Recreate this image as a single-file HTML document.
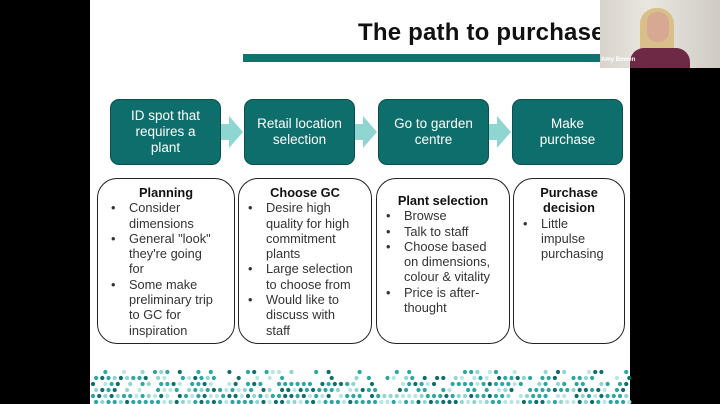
<!DOCTYPE html>
<html><head><meta charset="utf-8"><style>
*{margin:0;padding:0;box-sizing:border-box}
body{width:720px;height:404px;background:#000;position:relative;overflow:hidden;font-family:"Liberation Sans",sans-serif}
#slide{position:absolute;left:90px;top:0;width:540px;height:404px;background:#fff}
.a{position:absolute}
.tb{position:absolute;top:99px;width:111px;height:66px;background:#0e6e6b;border-radius:9px;border:1px solid #0a4f4d;color:#fff;font-size:13.5px;line-height:16px;display:flex;align-items:center;justify-content:center;text-align:center}
.bx{position:absolute;top:178px;height:166px;border:1.3px solid #222;border-radius:20px;font-size:12.8px;line-height:15.3px;color:#333;padding:6px 0 0 12px;white-space:nowrap}
.bx h4{font-size:12.8px;text-align:center;color:#111;font-weight:bold;margin-left:-12px}
.bx ul{list-style:none}
.bx li{position:relative;padding-left:19px}
.bx li:before{content:"•";position:absolute;left:1px}
</style></head><body>
<div id="slide"></div>
<div class="a" style="left:358px;top:19px;font-size:24px;font-weight:bold;color:#111;letter-spacing:0.2px">The path to purchase</div>
<div class="a" style="left:243px;top:54px;width:387px;height:8px;background:#137270"></div>
<svg class="a" style="left:0;top:0" width="720" height="404">
<g fill="#8fd6d2">
<path d="M221 124h8v-8l14 16-14 16v-8h-8z"/>
<path d="M355 124h8v-8l14 16-14 16v-8h-8z"/>
<path d="M489 124h8v-8l14 16-14 16v-8h-8z"/>
</g>
<g id="dots"></g>
</svg>
<div class="tb" style="left:110px">ID spot that<br>requires a<br>plant</div>
<div class="tb" style="left:244px">Retail location<br>selection</div>
<div class="tb" style="left:378px">Go to garden<br>centre</div>
<div class="tb" style="left:512px">Make<br>purchase</div>
<div class="bx" style="left:97px;width:138px"><h4>Planning</h4><ul><li>Consider<br>dimensions</li><li>General "look"<br>they're going<br>for</li><li>Some make<br>preliminary trip<br>to GC for<br>inspiration</li></ul></div>
<div class="bx" style="left:238px;width:134px;padding-left:8px"><h4 style="margin-left:-8px">Choose GC</h4><ul><li>Desire high<br>quality for high<br>commitment<br>plants</li><li>Large selection<br>to choose from</li><li>Would like to<br>discuss with<br>staff</li></ul></div>
<div class="bx" style="left:376px;width:134px;padding-top:14px;padding-left:8px"><h4 style="margin-left:-8px">Plant selection</h4><ul><li>Browse</li><li>Talk to staff</li><li>Choose based<br>on dimensions,<br>colour &amp; vitality</li><li>Price is after-<br>thought</li></ul></div>
<div class="bx" style="left:513px;width:112px;padding-left:8px"><h4 style="margin-left:-8px">Purchase<br>decision</h4><ul><li>Little<br>impulse<br>purchasing</li></ul></div>
<div class="a" style="left:600px;top:0;width:120px;height:68px;background:linear-gradient(90deg,#d8d4cc,#e9e6e0 40%,#cfcac4)">
<div class="a" style="left:40px;top:8px;width:34px;height:50px;background:#d9c08a;border-radius:16px 16px 6px 6px"></div>
<div class="a" style="left:47px;top:12px;width:22px;height:30px;background:#d7a892;border-radius:10px"></div>
<div class="a" style="left:30px;top:48px;width:60px;height:20px;background:#6e2a45;border-radius:14px 14px 0 0"></div>
<div class="a" style="left:1px;top:57px;font-size:6px;color:#fff;font-weight:bold">Amy Bowen</div>
</div>
<script>
var g=document.getElementById('dots'),s='',cols=['#0e6e6b','#2aa6a3','#2aa6a3','#8fd6d2','#b9e6e3'];
var seed=7;function r(){seed=(seed*9301+49297)%233280;return seed/233280;}
for(var row=0;row<6;row++){var y=372+row*6;var p=0.4+row*0.12;
for(var x=93;x<630;x+=6.2){if(r()<p){var c=cols[Math.floor(r()*5)];s+='<circle cx="'+(x+(row%2)*3.1).toFixed(1)+'" cy="'+y.toFixed(1)+'" r="2.1" fill="'+c+'"/>';}}}
g.innerHTML=s;
</script>
</body></html>
